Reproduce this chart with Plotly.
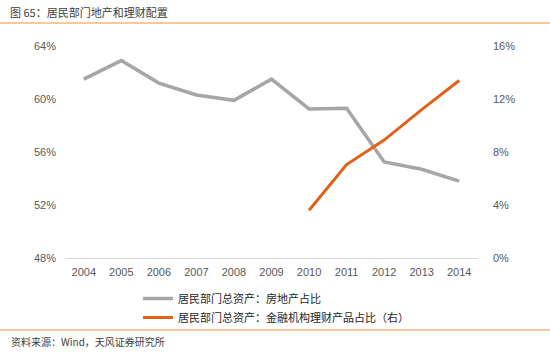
import plotly.graph_objects as go

years = ["2004", "2005", "2006", "2007", "2008", "2009", "2010", "2011", "2012", "2013", "2014"]
housing_share = [61.5, 62.9, 61.2, 60.3, 59.9, 61.5, 59.25, 59.3, 55.25, 54.7, 53.8]
wmp_years = ["2010", "2011", "2012", "2013", "2014"]
wmp_share = [3.6, 7.05, 8.9, 11.2, 13.4]

left_ticks = [48, 52, 56, 60, 64]
right_ticks = [0, 4, 8, 12, 16]

W, H = 550, 352
L, R, T, B = 65, 72, 46, 94
pw = W - L - R
ph = H - T - B

cjk = "Noto Sans CJK SC"
fig = go.Figure()
fig.add_trace(go.Scatter(x=years, y=housing_share, mode="lines",
                         name="居民部门总资产：房地产占比",
                         line=dict(color="#A6A6A6", width=3.5)))
fig.add_trace(go.Scatter(x=wmp_years, y=wmp_share, mode="lines", yaxis="y2",
                         name="居民部门总资产：金融机构理财产品占比（右）",
                         line=dict(color="#E0621A", width=3)))

def px2paper_x(px):
    return (px - L) / pw

def px2paper_y(py):
    return (H - B - py) / ph

tickfont = dict(family="Liberation Sans", size=11, color="#595959")

fig.update_layout(
    width=W, height=H,
    margin=dict(l=L, r=R, t=T, b=B),
    paper_bgcolor="white", plot_bgcolor="white",
    font=dict(family=cjk, size=11, color="#595959"),
    xaxis=dict(type="category", categoryorder="array", categoryarray=years,
               range=[-0.5, len(years) - 0.5],
               showgrid=False, showline=True, linecolor="#D9D9D9", linewidth=1,
               ticks="", tickfont=tickfont, zeroline=False, ticklabelstandoff=4),
    yaxis=dict(range=[48, 64], tickvals=left_ticks,
               ticktext=[f"{v}%" for v in left_ticks],
               showgrid=False, zeroline=False, showline=False, ticks="",
               tickfont=tickfont, ticklabelstandoff=8),
    yaxis2=dict(range=[0, 16], tickvals=right_ticks,
                ticktext=[f"{v}%" for v in right_ticks],
                overlaying="y", side="right",
                showgrid=False, zeroline=False, showline=False, ticks="",
                tickfont=tickfont, ticklabelstandoff=14),
    showlegend=True,
    legend=dict(x=px2paper_x(138), y=px2paper_y(284), xanchor="left", yanchor="top",
                orientation="v", bgcolor="rgba(0,0,0,0)",
                font=dict(family=cjk, size=11, color="#262626"),
                tracegroupgap=0, itemwidth=30),
    shapes=[
        dict(type="line", xref="paper", yref="paper",
             x0=px2paper_x(0), x1=px2paper_x(W), y0=px2paper_y(23), y1=px2paper_y(23),
             line=dict(color="#F4B77A", width=1.5)),
        dict(type="line", xref="paper", yref="paper",
             x0=px2paper_x(0), x1=px2paper_x(W), y0=px2paper_y(330), y1=px2paper_y(330),
             line=dict(color="#F4B77A", width=1.5)),
    ],
    annotations=[
        dict(text="图 65：居民部门地产和理财配置", xref="paper", yref="paper",
             x=px2paper_x(8), y=px2paper_y(12), xanchor="left", yanchor="middle",
             showarrow=False, font=dict(family=cjk, size=11, color="#404040")),
        dict(text="资料来源：Wind，天风证券研究所", xref="paper", yref="paper",
             x=px2paper_x(9), y=px2paper_y(341), xanchor="left", yanchor="middle",
             showarrow=False, font=dict(family=cjk, size=10, color="#404040")),
    ],
)

fig.write_html("out.html")
